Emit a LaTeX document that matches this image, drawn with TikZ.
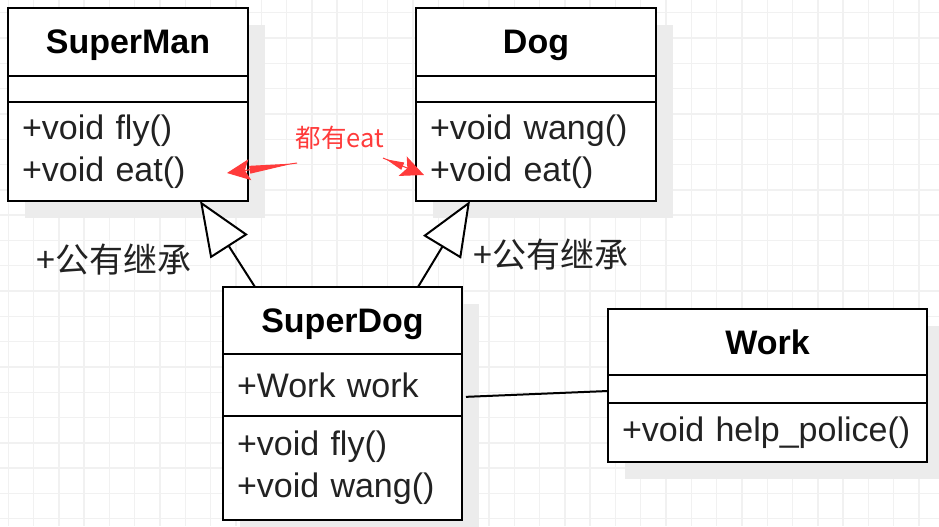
\documentclass[tikz,border=0pt]{standalone}
\usepackage{fontspec}
\setmainfont{Liberation Sans}
\newfontfamily\cjkfont{Noto Sans CJK SC}
\usetikzlibrary{positioning,arrows.meta,shadows}
\definecolor{GridGray}{RGB}{241,241,241}
\definecolor{ShadowGray}{RGB}{236,236,236}
\definecolor{TextDark}{RGB}{34,34,34}
\definecolor{NoteRed}{RGB}{255,59,59}
\tikzset{
  gridline/.style={draw=GridGray,line width=0.7pt},
  umlpart/.style={draw=black,line width=1pt,fill=white,outer sep=0pt,
    inner xsep=7pt,inner ysep=0pt,
    general shadow={fill=ShadowGray,shadow xshift=8.5pt,shadow yshift=-8.5pt}},
  classname/.style={umlpart,text depth=0pt,font=\fontsize{17}{21}\selectfont\bfseries},
  classgap/.style={umlpart},
  classbody/.style={umlpart,align=left,text=TextDark,font=\fontsize{17}{21}\selectfont},
  inherit/.style={-{Triangle[open,length=27pt,width=22pt,fill=white]},line width=1pt},
  assoc/.style={line width=1pt},
  noteflow/.style={-{Triangle[reversed,length=#1,width=3.8pt,sep=0pt]Stealth[length=11.5pt,width=10.5pt,inset=2.5pt]},
    line width=0.5pt,draw=NoteRed,fill=NoteRed},
  notetext/.style={text=NoteRed,font=\cjkfont\fontsize{12.75}{15}\selectfont},
  relabel/.style={text=TextDark,font=\cjkfont\fontsize{17}{21}\selectfont}
}

\begin{document}
\begin{tikzpicture}[x=0.5pt,y=-0.5pt]
  \fill[white] (0,0) rectangle (939,526);
  \useasboundingbox (0,0) rectangle (939,526);
  % background grid
  \foreach \gx in {0,...,36}
    \draw[gridline] ({8.2+\gx*25.3},0) -- ({8.2+\gx*25.3},526);
  \foreach \gy in {0,...,20}
    \draw[gridline] (0,{12.7+\gy*25.3}) -- (939,{12.7+\gy*25.3});

  % SuperMan
  \node[classname,minimum width=120pt,minimum height=34pt,anchor=north west] (manname) at (8,8) {SuperMan};
  \node[classgap,below=0pt of manname,minimum width=120pt,minimum height=13pt] (manattr) {};
  \node[classbody,below=0pt of manattr,text width=106pt,minimum height=49.5pt] (manops) {+void fly()\\+void eat()};

  % Dog
  \node[classname,minimum width=120pt,minimum height=34pt,anchor=north west] (dogname) at (416,8) {Dog};
  \node[classgap,below=0pt of dogname,minimum width=120pt,minimum height=13pt] (dogattr) {};
  \node[classbody,below=0pt of dogattr,text width=106pt,minimum height=49.5pt] (dogops) {+void wang()\\+void eat()};

  % SuperDog
  \node[classname,minimum width=119.5pt,minimum height=33.5pt,anchor=north west] (sdname) at (223,287) {SuperDog};
  \node[classbody,below=0pt of sdname,text width=105.5pt,minimum height=31pt] (sdattr) {+Work work};
  \node[classbody,below=0pt of sdattr,text width=105.5pt,minimum height=52pt] (sdops) {+void fly()\\+void wang()};

  % Work
  \node[classname,minimum width=159.5pt,minimum height=33pt,anchor=north west] (workname) at (608,309) {Work};
  \node[classgap,below=0pt of workname,minimum width=159.5pt,minimum height=14pt] (workattr) {};
  \node[classbody,below=0pt of workattr,text width=145.5pt,minimum height=29.5pt] (workops) {+void help\_police()};

  % labels
  \node[notetext] (eatnote) at (340,138) {都有eat};
  \node[relabel] (leftlabel) at (114,260) {+公有继承};
  \node[relabel] (rightlabel) at (551,255) {+公有继承};

  % relations
  \draw[inherit] ([xshift=16pt]sdname.north west) -- ([xshift=-24pt]manops.south east);
  \draw[inherit] ([xshift=-22pt]sdname.north east) -- ([xshift=27pt]dogops.south west);
  \draw[assoc,shorten <=2pt] ([yshift=-6pt]sdattr.east) -- ([yshift=-1pt]workattr.west);
  \draw[noteflow=22pt] ([xshift=-21.5pt,yshift=-12.5pt]eatnote.center) -- ([xshift=-10.5pt,yshift=-10.75pt]manops.east);
  \draw[noteflow=9pt] ([xshift=21.5pt,yshift=-10pt]eatnote.center) -- ([xshift=4pt,yshift=-11.75pt]dogops.west);
\end{tikzpicture}
\end{document}
